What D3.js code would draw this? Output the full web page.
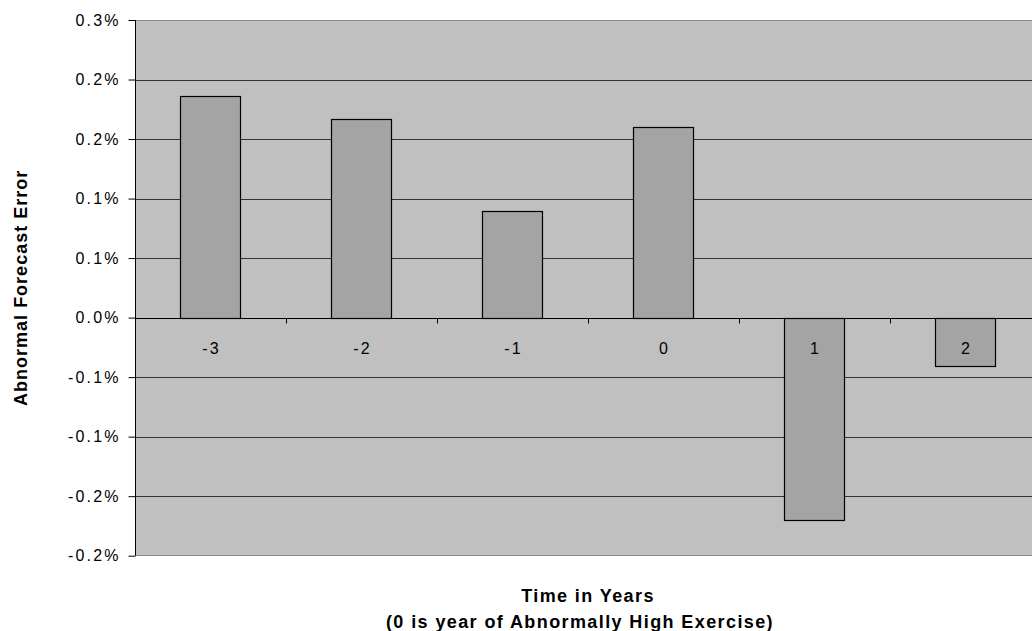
<!DOCTYPE html>
<html>
<head>
<meta charset="utf-8">
<script src="https://cdn.jsdelivr.net/npm/d3@7"></script>
<style>
  html, body { margin: 0; padding: 0; background: #fff; }
  svg { display: block; font-family: "Liberation Sans", Arial, Helvetica, sans-serif; }
</style>
</head>
<body>
<svg id="chart" width="1032" height="631"></svg>
<script>
// Data
const categories = ["-3", "-2", "-1", "0", "1", "2"];
const values = [0.1864, 0.1671, 0.0895, 0.1604, -0.170, -0.041]; // percent
const yTicks = [0.25, 0.20, 0.15, 0.10, 0.05, 0, -0.05, -0.10, -0.15, -0.20];
const yTickLabels = ["0.3%", "0.2%", "0.2%", "0.1%", "0.1%", "0.0%", "-0.1%", "-0.1%", "-0.2%", "-0.2%"];
const yTitle = "Abnormal Forecast Error";
const xTitle = ["Time in Years", "(0 is year of Abnormally High Exercise)"];

(function () {
const svg = d3.select("#chart");
const pL = 135, pR = 1041, pT = 20, pB = 555.7;
const tickLS = 2.2;

const x = d3.scaleBand().domain(categories).range([pL, pR]).paddingInner(0.6).paddingOuter(0.3);
const y = d3.scaleLinear().domain([-0.20, 0.25]).range([pB, pT]);

// plot background
svg.append("rect").attr("x", pL).attr("y", pT).attr("width", pR - pL).attr("height", pB - pT)
  .attr("fill", "#c0c0c0");

// gridlines
svg.append("g").selectAll("line").data(yTicks.filter(d => d !== 0.25 && d !== -0.20)).join("line")
  .attr("x1", pL).attr("x2", pR)
  .attr("y1", d => Math.round(y(d)) + 0.5).attr("y2", d => Math.round(y(d)) + 0.5)
  .attr("stroke", "#333").attr("stroke-width", 1);

// top & bottom borders (gray)
svg.append("line").attr("x1", pL).attr("x2", pR).attr("y1", pT + 0.5).attr("y2", pT + 0.5)
  .attr("stroke", "#888").attr("stroke-width", 1.2);
svg.append("line").attr("x1", pL).attr("x2", pR).attr("y1", Math.round(pB) - 0.5).attr("y2", Math.round(pB) - 0.5)
  .attr("stroke", "#888").attr("stroke-width", 1.2);

// bars
svg.append("g").selectAll("rect").data(values).join("rect")
  .attr("x", (d, i) => Math.round(x(categories[i])) + 0.5)
  .attr("width", Math.round(x.bandwidth()))
  .attr("y", d => Math.round(y(Math.max(0, d))) + 0.5)
  .attr("height", d => Math.abs(Math.round(y(d)) - Math.round(y(0))))
  .attr("fill", "#a4a4a4").attr("stroke", "#000").attr("stroke-width", 1.2);

// y axis
const yAxis = d3.axisLeft(y).tickValues(yTicks).tickSize(7).tickPadding(10 - tickLS)
  .tickFormat((d, i) => yTickLabels[i]);
const gy = svg.append("g").attr("transform", `translate(${pL + 0.5},0)`).call(yAxis);
gy.select(".domain").attr("stroke", "#000").attr("d", `M0,${pT}V${pB}`);
gy.selectAll(".tick line").attr("stroke", "#000");
gy.selectAll(".tick text").attr("fill", "#000").style("font-size", "16px")
  .style("letter-spacing", tickLS + "px")
  .style("font-family", "'Liberation Sans', Arial, sans-serif");

// x axis at zero: ticks between categories
const y0 = Math.round(y(0)) + 0.5;
svg.append("line").attr("x1", pL).attr("x2", pR).attr("y1", y0).attr("y2", y0).attr("stroke", "#000");
const bounds = d3.range(1, categories.length).map(i => x.step() * i + pL);
svg.append("g").selectAll("line").data(bounds).join("line")
  .attr("x1", d => Math.round(d) + 0.5).attr("x2", d => Math.round(d) + 0.5)
  .attr("y1", y0).attr("y2", y0 + 5).attr("stroke", "#000");
svg.append("g").selectAll("text").data(categories).join("text")
  .attr("x", d => x(d) + x.bandwidth() / 2 + tickLS / 2)
  .attr("y", y0 + 35)
  .attr("text-anchor", "middle")
  .style("font-size", "16px").style("letter-spacing", tickLS + "px").attr("fill", "#000")
  .text(d => d);

// y title
svg.append("text")
  .attr("transform", `translate(26.5,${(pT + pB) / 2}) rotate(-90)`)
  .attr("text-anchor", "middle")
  .style("font-size", "18px").style("font-weight", "bold").style("letter-spacing", "1px")
  .text(yTitle);

// x title
const cx = (pL + pR) / 2;
svg.append("text").attr("x", cx).attr("y", 601.5)
  .attr("text-anchor", "middle").style("font-size", "18px").style("font-weight", "bold").style("letter-spacing", "1.4px")
  .text(xTitle[0]);
svg.append("text").attr("x", cx - 8).attr("y", 627.5)
  .attr("text-anchor", "middle").style("font-size", "18px").style("font-weight", "bold").style("letter-spacing", "1.4px")
  .text(xTitle[1]);
})();
</script>
</body>
</html>
